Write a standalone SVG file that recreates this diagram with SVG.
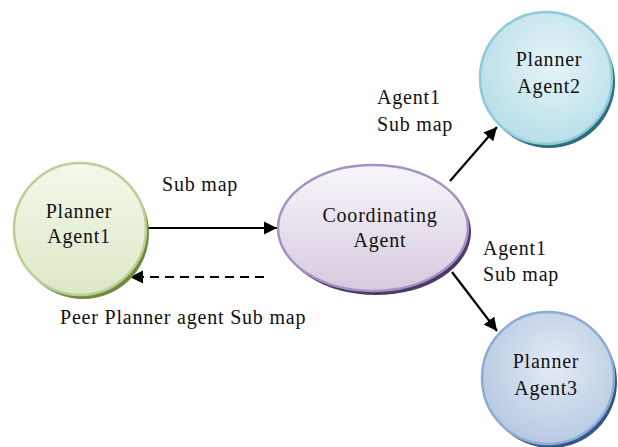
<svg xmlns="http://www.w3.org/2000/svg" width="618" height="447" viewBox="0 0 618 447">
<defs>
<linearGradient id="gGreen" x1="0" y1="0" x2="0" y2="1"><stop offset="0" stop-color="#f4f8ec"/><stop offset="1" stop-color="#dbe8c6"/></linearGradient>
<linearGradient id="gPurple" x1="0" y1="0" x2="0" y2="1"><stop offset="0" stop-color="#f8f6fa"/><stop offset="1" stop-color="#d6cade"/></linearGradient>
<radialGradient id="gCyan" cx="0.55" cy="0.4" r="0.6"><stop offset="0" stop-color="#e6f4f7"/><stop offset="1" stop-color="#b8dfe8"/></radialGradient>
<radialGradient id="gBlue" cx="0.55" cy="0.4" r="0.6"><stop offset="0" stop-color="#e4ebf5"/><stop offset="1" stop-color="#b7c9e2"/></radialGradient>
<marker id="arr" viewBox="0 0 10 10" refX="10" refY="5" markerWidth="6" markerHeight="6" markerUnits="strokeWidth" orient="auto"><path d="M0,0 L10,5 L0,10 z" fill="#000"/></marker>
</defs>
<style>
text{font-family:"Liberation Serif","Times New Roman",serif;font-size:20px;letter-spacing:0.8px;fill:#111}
.c{text-anchor:middle}
.edge{stroke:#000;stroke-width:2.2;fill:none}
</style>
<rect width="618" height="447" fill="#fff"/>
<g id="connectors">
<line class="edge" x1="146" y1="228" x2="277" y2="228" marker-end="url(#arr)"/>
<line class="edge" x1="264" y1="277" x2="130" y2="277" stroke-dasharray="9,6" marker-end="url(#arr)"/>
<line class="edge" x1="450" y1="181" x2="497" y2="127" marker-end="url(#arr)"/>
<line class="edge" x1="452" y1="272" x2="497" y2="331" marker-end="url(#arr)"/>
<text x="162" y="191">Sub map</text>
<text x="60" y="324">Peer Planner agent Sub map</text>
<text x="377" y="104">Agent1</text>
<text x="377" y="131">Sub map</text>
<text x="483" y="255">Agent1</text>
<text x="483" y="281">Sub map</text>
</g>
<g id="agent1">
<circle cx="83" cy="233" r="66" fill="#6f8a3c"/>
<circle cx="80" cy="229" r="66" fill="url(#gGreen)" stroke="#b9cf93" stroke-width="2.5"/>
<text class="c" x="79" y="218">Planner</text>
<text class="c" x="79" y="243">Agent1</text>
</g>
<g id="coordinating">
<ellipse cx="376" cy="232" rx="95" ry="63" fill="#4b3a63"/>
<ellipse cx="373" cy="228" rx="95" ry="63" fill="url(#gPurple)" stroke="#a592c2" stroke-width="2.5"/>
<text class="c" x="380" y="222">Coordinating</text>
<text class="c" x="380" y="247">Agent</text>
</g>
<g id="agent2">
<circle cx="549" cy="82" r="66" fill="#2f6c7c"/>
<circle cx="546" cy="78" r="66" fill="url(#gCyan)" stroke="#8fcad8" stroke-width="2.5"/>
<text class="c" x="549" y="66">Planner</text>
<text class="c" x="549" y="93">Agent2</text>
</g>
<g id="agent3">
<circle cx="551" cy="382" r="66" fill="#34568a"/>
<circle cx="548" cy="378" r="66" fill="url(#gBlue)" stroke="#8eabd2" stroke-width="2.5"/>
<text class="c" x="546" y="368">Planner</text>
<text class="c" x="546" y="395">Agent3</text>
</g>
</svg>
